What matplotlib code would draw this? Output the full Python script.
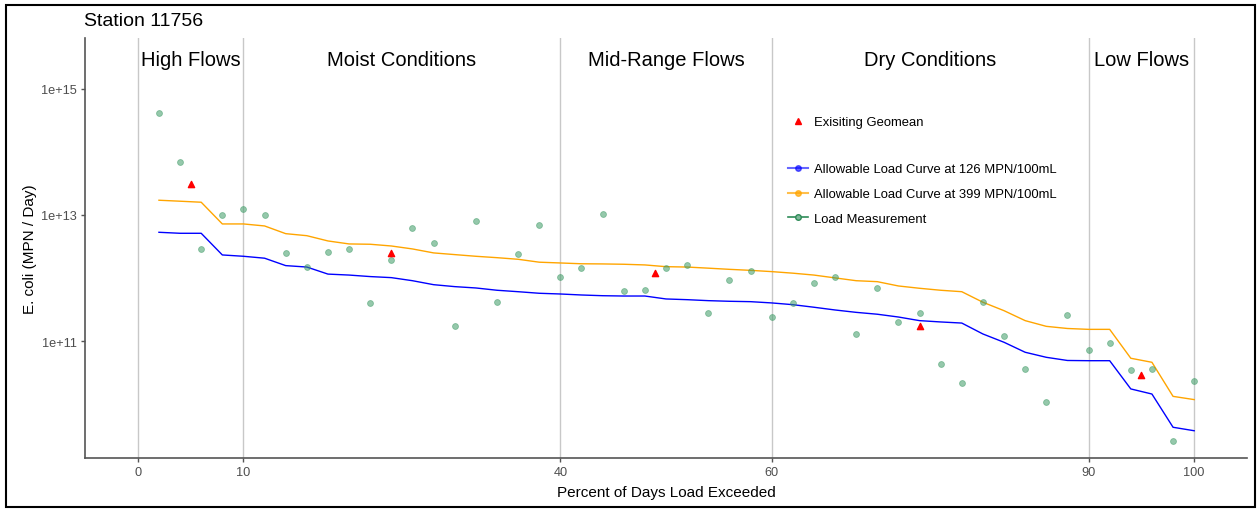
import matplotlib
matplotlib.use('Agg')
import matplotlib.pyplot as plt
import matplotlib.transforms as mtransforms
from matplotlib.lines import Line2D
from matplotlib.patches import Rectangle

plt.rcParams['font.family'] = ['Liberation Sans', 'DejaVu Sans']

# percent of days load exceeded for each sample
pct = [2, 4, 6, 8, 10, 12, 14, 16, 18, 20, 22, 24, 26, 28, 30, 32, 34, 36, 38, 40,
       42, 44, 46, 48, 50, 52, 54, 56, 58, 60, 62, 64, 66, 68, 70, 72, 74, 76, 78, 80,
       82, 84, 86, 88, 90, 92, 94, 96, 98, 100]

load_meas = [4.11e14, 6.97e13, 2.93e12, 9.9e12, 1.24e13, 9.9e12, 2.51e12, 1.50e12, 2.60e12, 2.93e12,
             4.09e11, 1.96e12, 6.17e12, 3.56e12, 1.73e11, 8.13e12, 4.25e11, 2.39e12, 6.95e12, 1.06e12,
             1.45e12, 1.04e13, 6.34e11, 6.58e11, 1.45e12, 1.62e12, 2.79e11, 9.38e11, 1.29e12, 2.46e11,
             4.09e11, 8.39e11, 1.06e12, 1.32e11, 6.92e11, 2.00e11, 2.79e11, 4.39e10, 2.17e10, 4.25e11,
             1.22e11, 3.61e10, 1.11e10, 2.59e11, 7.31e10, 9.33e10, 3.49e10, 3.61e10, 2.69e9, 2.34e10]

curve_126 = [5.32e12, 5.13e12, 5.13e12, 2.33e12, 2.22e12, 2.07e12, 1.58e12, 1.50e12, 1.16e12, 1.12e12,
             1.06e12, 1.02e12, 9.12e11, 7.89e11, 7.35e11, 7.00e11, 6.44e11, 6.11e11, 5.77e11, 5.62e11,
             5.42e11, 5.28e11, 5.22e11, 5.22e11, 4.69e11, 4.57e11, 4.41e11, 4.31e11, 4.25e11, 4.06e11,
             3.81e11, 3.47e11, 3.14e11, 2.88e11, 2.69e11, 2.43e11, 2.13e11, 2.03e11, 1.95e11, 1.31e11,
             9.68e10, 6.73e10, 5.60e10, 4.99e10, 4.95e10, 4.95e10, 1.77e10, 1.47e10, 4.38e9, 3.86e9]

curve_399 = [1.71e13, 1.65e13, 1.59e13, 7.21e12, 7.21e12, 6.70e12, 5.06e12, 4.70e12, 3.88e12, 3.48e12,
             3.44e12, 3.23e12, 2.90e12, 2.51e12, 2.36e12, 2.22e12, 2.11e12, 1.99e12, 1.79e12, 1.74e12,
             1.69e12, 1.68e12, 1.66e12, 1.62e12, 1.52e12, 1.50e12, 1.44e12, 1.38e12, 1.33e12, 1.27e12,
             1.20e12, 1.12e12, 1.01e12, 9.12e11, 8.81e11, 7.53e11, 6.92e11, 6.44e11, 6.11e11, 4.16e11,
             3.06e11, 2.13e11, 1.73e11, 1.60e11, 1.55e11, 1.55e11, 5.41e10, 4.67e10, 1.35e10, 1.20e10]

gm_pct = [5, 24, 49, 74, 95]
gm_load = [3.09e13, 2.48e12, 1.21e12, 1.73e11, 2.94e10]

zones = ['High Flows', 'Moist Conditions', 'Mid-Range Flows', 'Dry Conditions', 'Low Flows']
zone_mid = [5, 25, 50, 75, 95]
zone_edges = [0, 10, 40, 60, 90, 100]

W, H = 1257, 510
fig = plt.figure(figsize=(W / 100, H / 100), dpi=100)
ax = fig.add_axes([85 / W, 51 / H, 1162 / W, 420 / H])

for e in zone_edges:
    ax.axvline(e, color='#c8c8c8', lw=1, zorder=0)

ax.plot(pct, curve_126, color='#0000ff', lw=1, zorder=2)
ax.plot(pct, curve_399, color='#ffa500', lw=1, zorder=2)
ax.scatter(pct, load_meas, s=18, color='#3f9b66', alpha=0.55,
           edgecolors='#3f9b66', linewidths=0.6, zorder=3)
ax.scatter(gm_pct, gm_load, marker='^', s=20, color='red', zorder=4)

ax.set_yscale('log')
ax.set_xlim(-5, 105)
ax.set_ylim(1.43e9, 6.3e15)
ax.set_yticks([1e11, 1e13, 1e15])
ax.set_yticklabels(['1e+11', '1e+13', '1e+15'])
ax.yaxis.set_minor_locator(plt.NullLocator())
ax.set_xticks(zone_edges)
ax.set_xticklabels([str(v) for v in zone_edges])

for s in ['top', 'right']:
    ax.spines[s].set_visible(False)
for s in ['left', 'bottom']:
    ax.spines[s].set_color('#555555')
    ax.spines[s].set_linewidth(1.2)
ax.tick_params(length=3, width=1, color='#555555', labelcolor='#4d4d4d',
               labelsize=9.2, pad=3)

trans = mtransforms.blended_transform_factory(ax.transData, ax.transAxes)
for name, xm in zip(zones, zone_mid):
    ax.text(xm, 0.95, name, transform=trans, ha='center', va='center',
            fontsize=14.5, color='black')

ax.set_xlabel('Percent of Days Load Exceeded', fontsize=11)
ax.xaxis.label.set_va('center')
ax.xaxis.set_label_coords(0.5, -0.081)
ax.set_ylabel('E. coli (MPN / Day)', fontsize=11)
ax.yaxis.label.set_va('center')
ax.yaxis.set_label_coords(-55 / 1162, 0.5)

fig.text(84 / W, 1 - 22 / H, 'Station 11756', ha='left', va='center', fontsize=14)

# legends
h_gm = [Line2D([], [], marker='^', color='red', ls='none', ms=4.5)]
leg1 = ax.legend(h_gm, ['Exisiting Geomean'], loc='upper left',
                 bbox_to_anchor=(788 / W, 1 - 117 / H), bbox_transform=fig.transFigure,
                 frameon=False, fontsize=9.4, borderpad=0, borderaxespad=0,
                 handlelength=1.53, handletextpad=0.46)
ax.add_artist(leg1)
h_lines = [Line2D([], [], color='#0000ff', marker='o', ms=4, alpha=0.6, lw=1.5),
           Line2D([], [], color='#ffa500', marker='o', ms=4, alpha=0.7, lw=1.5),
           Line2D([], [], color='#2e8b57', marker='o', ms=4, mfc='#7fb99a', lw=1.2)]
ax.legend(h_lines, ['Allowable Load Curve at 126 MPN/100mL',
                    'Allowable Load Curve at 399 MPN/100mL',
                    'Load Measurement'],
          loc='upper left', bbox_to_anchor=(788 / W, 1 - 164 / H),
          bbox_transform=fig.transFigure, frameon=False, fontsize=9.4,
          borderpad=0, borderaxespad=0, handlelength=1.53, handletextpad=0.46,
          labelspacing=0.98, numpoints=1)

fig.patches.append(Rectangle((6 / W, 2 / H), 1249 / W, 502 / H, transform=fig.transFigure,
                             fill=False, ec='black', lw=1.5))

fig.savefig('out.png', dpi=100)
